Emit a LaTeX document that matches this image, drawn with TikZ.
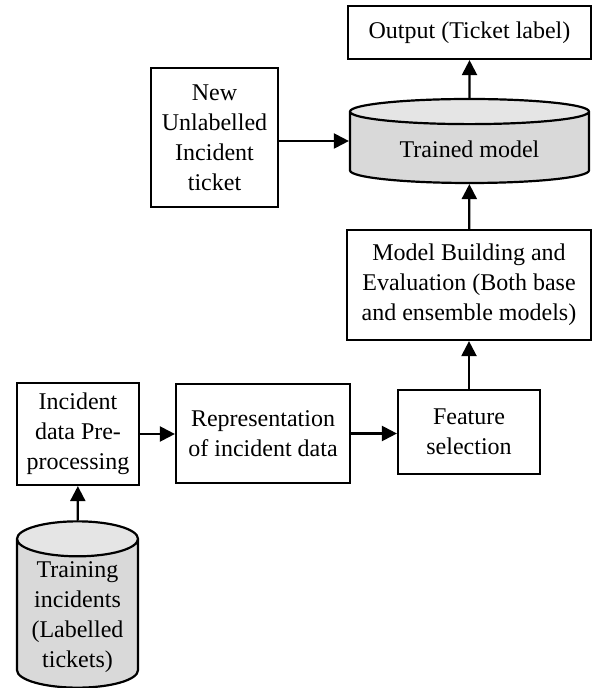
\documentclass[tikz,border=0pt]{standalone}
\usepackage{fontspec}
\setmainfont{Liberation Serif}
\usepackage{tikz}
\usetikzlibrary{arrows.meta,shapes.geometric}

\tikzset{
    box/.style={draw,line width=1.1pt,align=center,inner sep=2pt,
        font=\fontsize{12}{15}\selectfont},
    drum/.style={draw,line width=1.1pt,align=center,cylinder,shape border rotate=90,
        cylinder uses custom fill,cylinder body fill=black!15,cylinder end fill=black!10,
        anchor=shape center,inner sep=2pt,font=\fontsize{12}{15}\selectfont},
    flow/.style={line width=1.1pt,-{Triangle[length=7.5pt,width=7.5pt]}}
}

\begin{document}
\begin{tikzpicture}[x=0.5pt,y=-0.5pt]
    \useasboundingbox (0,0) rectangle (595,688);
    \node[box,minimum width=121.5pt,minimum height=26.5pt] (out) at (469.5,32.5) {Output (Ticket label)};
    \node[box,minimum width=63.5pt,minimum height=69.5pt] (newt) at (214.5,137.5) {New\\Unlabelled\\Incident\\ticket};
    \node[drum,minimum width=119.5pt,minimum height=42pt,aspect=0.17] (trained) at (469.5,141) {Trained model};
    \node[box,minimum width=122pt,minimum height=55pt] (model) at (469,285) {Model Building and\\Evaluation (Both base\\and ensemble models)};
    \node[box,minimum width=71pt,minimum height=42pt] (feat) at (469,432) {Feature\\selection};
    \node[box,minimum width=87pt,minimum height=49.5pt] (rep) at (263,433.5) {Representation\\of incident data};
    \node[box,minimum width=61pt,minimum height=51pt] (pre) at (78,434) {Incident\\data Pre-\\processing};
    \node[drum,minimum width=60.5pt,minimum height=82.5pt,aspect=0.35] (train) at (77.5,604.5) {Training\\incidents\\(Labelled\\tickets)};

    \draw[flow] (train) -- (pre);
    \draw[flow] (pre) -- (pre -| rep.west);
    \draw[flow] (rep) -- (rep -| feat.west);
    \draw[flow] (feat) -- (model);
    \draw[flow] (model) -- (trained);
    \draw[flow] (newt.east |- trained.shape center) -- (trained.shape center -| trained.west);
    \draw[flow] (trained) -- (out);
\end{tikzpicture}
\end{document}
